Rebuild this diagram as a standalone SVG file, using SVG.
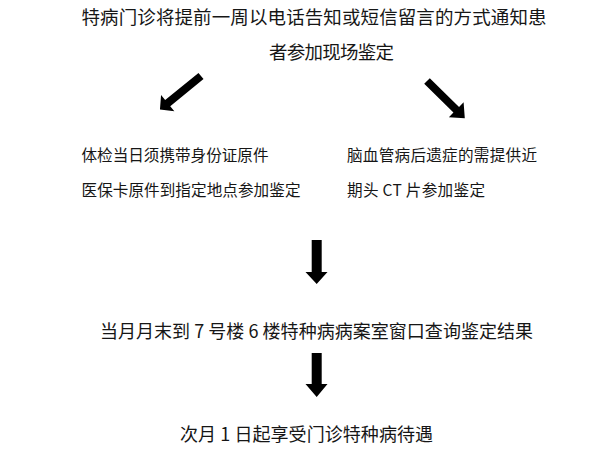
<svg xmlns="http://www.w3.org/2000/svg" width="600" height="453" viewBox="0 0 600 453">
  <style>
    text { font-family: "Noto Sans CJK SC", "Noto Sans", sans-serif; fill: #161616; }
    .t1 { font-size: 18.5px; }
    .t2 { font-size: 15.6px; }
    .t3 { font-size: 18px; }
    .arrow { fill: #000; }
  </style>
  <rect x="0" y="0" width="600" height="453" fill="#fff"/>

  <g id="node-notify">
    <text class="t1" x="81.5" y="24" textLength="465">特病门诊将提前一周以电话告知或短信留言的方式通知患</text>
    <text class="t1" x="269" y="59" textLength="125">者参加现场鉴定</text>
  </g>

  <g id="node-left">
    <text class="t2" x="81.5" y="160.5" textLength="187">体检当日须携带身份证原件</text>
    <text class="t2" x="81.5" y="196" textLength="219">医保卡原件到指定地点参加鉴定</text>
  </g>

  <g id="node-right">
    <text class="t2" x="347" y="160.5" textLength="190">脑血管病后遗症的需提供近</text>
    <text class="t2" x="347" y="196" textLength="138">期头 CT 片参加鉴定</text>
  </g>

  <g id="node-result">
    <text class="t3" x="100" y="337.5" textLength="433">当月月末到 7 号楼 6 楼特种病病案室窗口查询鉴定结果</text>
  </g>

  <g id="node-benefit">
    <text class="t3" x="180" y="441" textLength="253">次月 1 日起享受门诊特种病待遇</text>
  </g>

  <g id="connectors">
    <polygon class="arrow" transform="translate(201,76) rotate(140.75)" points="0,-4 43,-4 43,-10.5 53,0 43,10.5 43,4 0,4"/>
    <polygon class="arrow" transform="translate(427,81) rotate(44.5)" points="0,-4 41,-4 41,-10.5 53,0 41,10.5 41,4 0,4"/>
    <polygon class="arrow" points="311.7,240 321.7,240 321.7,272 327.5,272 316.7,284 305.5,272 311.7,272"/>
    <polygon class="arrow" points="311.7,353 321.7,353 321.7,384 327.5,384 316.7,397 305.5,384 311.7,384"/>
  </g>
</svg>
